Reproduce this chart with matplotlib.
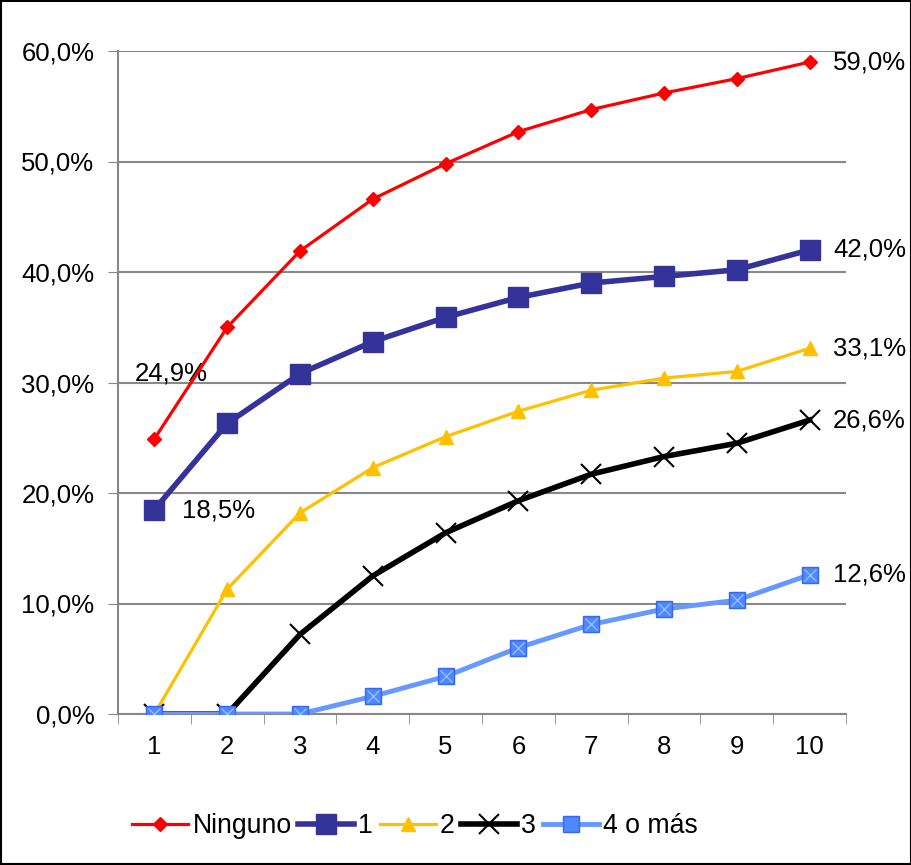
import matplotlib
matplotlib.use("Agg")
import matplotlib.pyplot as plt
from matplotlib.ticker import FuncFormatter

plt.rcParams['font.family'] = ['Liberation Sans', 'DejaVu Sans']

categorias = ['1', '2', '3', '4', '5', '6', '7', '8', '9', '10']
ninguno = [24.9, 35.0, 41.9, 46.6, 49.8, 52.7, 54.7, 56.2, 57.5, 59.0]
uno = [18.5, 26.3, 30.8, 33.7, 35.9, 37.7, 39.0, 39.6, 40.2, 42.0]
dos = [0.0, 11.3, 18.2, 22.3, 25.1, 27.4, 29.3, 30.4, 31.0, 33.1]
tres = [0.0, 0.0, 7.2, 12.5, 16.4, 19.3, 21.7, 23.3, 24.5, 26.6]
cuatro_mas = [0.0, 0.0, 0.0, 1.6, 3.4, 6.0, 8.1, 9.5, 10.3, 12.6]

FS = 18.5

fig = plt.figure(figsize=(9.12, 8.65), dpi=100)
ax = fig.add_axes([118 / 912, 1 - 714 / 865, (846 - 118) / 912, (714 - 51) / 865])

x = range(1, len(categorias) + 1)
ax.plot(x, ninguno, color='#ff0000', lw=2.3, marker='D', ms=7, label='Ninguno', zorder=5)
ax.plot(x, uno, color='#333399', lw=4, marker='s', ms=14, label='1', zorder=4)
ax.plot(x, dos, color='#ffc000', lw=2.3, marker='^', ms=10, label='2', zorder=3)
ax.plot(x, tres, color='black', lw=4, marker='x', ms=14, mew=1.5, label='3', zorder=2)
ax.plot(x, cuatro_mas, color='#6699ff', lw=3.5, marker='s', ms=11, mfc='#4d88ff',
        mec='#3366ff', label='4 o más', zorder=6)
ax.plot(x, cuatro_mas, ls='none', marker='x', ms=9, mew=1, color='#99bbff', zorder=7)

def pct(v):
    return f"{v:.1f}%".replace('.', ',')

ax.annotate(pct(ninguno[0]), (1, ninguno[0]), xytext=(-14, 47), textcoords='offset points',
            fontsize=FS, va='center')
ax.annotate(pct(uno[0]), (1, uno[0]), xytext=(20, -1), textcoords='offset points',
            fontsize=FS, va='center')
for serie in [ninguno, uno, dos, tres, cuatro_mas]:
    ax.annotate(pct(serie[-1]), (10, serie[-1]), xytext=(17, 0), textcoords='offset points',
                fontsize=FS, va='center')

ax.set_xlim(0.5, 10.5)
ax.set_ylim(0, 60)
ax.set_yticks(range(0, 61, 10))
ax.yaxis.set_major_formatter(FuncFormatter(lambda v, p: pct(v)))
ax.set_xticks(list(x))
ax.set_xticklabels(categorias)
ax.set_xticks([i + 0.5 for i in range(0, 11)], minor=True)
ax.tick_params(axis='x', which='major', length=0, pad=15, labelsize=FS)
ax.tick_params(axis='x', which='minor', length=7, color='#888888')
ax.tick_params(axis='y', length=7, color='#888888', labelsize=FS, pad=10)
ax.grid(axis='y', color='#888888', lw=1.5)
ax.set_axisbelow(True)
for s in ['top', 'right']:
    ax.spines[s].set_visible(False)
for s in ['left', 'bottom']:
    ax.spines[s].set_color('#888888')
    ax.spines[s].set_linewidth(1.5)

fig.legend(loc='center', bbox_to_anchor=(415 / 912, 1 - 826 / 865), ncol=5, frameon=False,
           fontsize=19.2, handlelength=2.1, handletextpad=0.15, columnspacing=0.25)

border = plt.Rectangle((0.001, 0.001), 0.998, 0.998, transform=fig.transFigure,
                       fill=False, ec='black', lw=1.5)
fig.patches.append(border)

fig.savefig('out.png', dpi=100)
